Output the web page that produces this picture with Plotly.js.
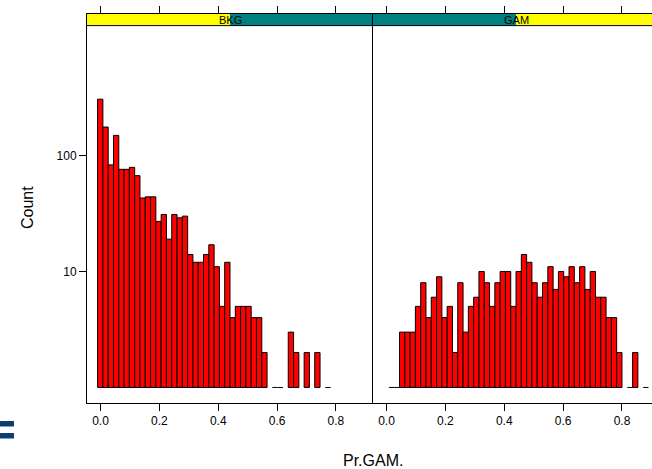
<!DOCTYPE html>
<html><head><meta charset="utf-8">
<script src="https://cdn.plot.ly/plotly-3.0.1.min.js"></script>
<style>html,body{margin:0;padding:0;background:#fff;}#chart{width:652px;height:469px;}</style>
</head><body><div id="chart"></div>
<script>
// ---- data ----
const panels = ['BKG', 'GAM'];
const breakStart = -0.01;
const binWidth = 0.018;
const bkgCounts = [306,176,83,149,76,76,79,67,43,44,44,27,31,19,31,29,30,14,12,12,14,17,11,5,12,4,5,5,5,4,4,2,0,1,1,0,3,2,0,2,0,2,0,1,0,0,0,0,0,0];
const gamCounts = [0,1,1,3,3,3,5,8,4,6,9,4,5,2,8,3,5,6,10,8,5,8,10,10,5,10,14,12,8,6,8,11,7,10,9,11,8,11,7,10,6,6,4,4,2,0,1,2,0,1];
const xTickVals = [0, 0.2, 0.4, 0.6, 0.8];
const xTickText = ['0.0', '0.2', '0.4', '0.6', '0.8'];
const yTickVals = [10, 100];
const yTickText = ['10', '100'];
const xTitle = 'Pr.GAM.';
const yTitle = 'Count';

// ---- layout geometry ----
const L = 87, R = 652, T = 14, B = 403;
const pxX = p => (p - L) / (R - L);
const pxY = p => (B - p) / (B - T);
const xRange = [-0.046, 0.926];
const x2Range = [-0.046, 0.902];
const yRange = [-0.134, 3.22];
const split = pxX(373);
const stripY0 = pxY(25.6);
const mid = (xRange[0] + xRange[1]) / 2;

const countsByPanel = [bkgCounts, gamCounts];
const traces = [];
countsByPanel.forEach((counts, i) => {
  const xa = i === 0 ? 'x' : 'x2', ya = i === 0 ? 'y' : 'y2';
  const centers = counts.map((c, k) => breakStart + binWidth * (k + 0.5));
  traces.push({
    type: 'bar', x: centers, y: counts.map(c => c > 1 ? c - 1 : null), base: 1,
    width: binWidth, xaxis: xa, yaxis: ya, hoverinfo: 'skip',
    marker: {color: '#FF0000', line: {color: '#000000', width: 1}}
  });
  const dx = [], dy = [];
  counts.forEach((c, k) => {
    if (c === 1) {
      dx.push(breakStart + binWidth * k, breakStart + binWidth * (k + 1), null);
      dy.push(1, 1, null);
    }
  });
  traces.push({type: 'scatter', mode: 'lines', x: dx, y: dy, xaxis: xa, yaxis: ya,
    line: {color: '#000000', width: 1}, hoverinfo: 'skip', cliponaxis: false});
});

const xCommon = {
  tickvals: xTickVals, ticktext: xTickText, ticks: 'outside', ticklen: 7, tickcolor: '#000',
  tickwidth: 1, showline: true, linecolor: '#000', linewidth: 1, mirror: 'ticks',
  showgrid: false, zeroline: false, tickfont: {size: 12}, fixedrange: true
};

const shapes = [
  {type: 'rect', layer: 'below', xref: 'x', yref: 'paper', x0: xRange[0], x1: mid, y0: stripY0, y1: 1, fillcolor: '#FFFF00', line: {width: 0}},
  {type: 'rect', layer: 'below', xref: 'x', yref: 'paper', x0: mid, x1: xRange[1], y0: stripY0, y1: 1, fillcolor: '#008080', line: {width: 0}},
  {type: 'rect', layer: 'below', xref: 'x2', yref: 'paper', x0: x2Range[0], x1: mid, y0: stripY0, y1: 1, fillcolor: '#008080', line: {width: 0}},
  {type: 'rect', layer: 'below', xref: 'x2', yref: 'paper', x0: mid, x1: x2Range[1] + 0.05, y0: stripY0, y1: 1, fillcolor: '#FFFF00', line: {width: 0}},
  {type: 'line', xref: 'paper', yref: 'paper', x0: 0, x1: 1, y0: stripY0, y1: stripY0, line: {color: '#000', width: 1}},
  {type: 'rect', xref: 'paper', yref: 'paper', x0: pxX(0), x1: pxX(14), y0: pxY(426.5), y1: pxY(421), fillcolor: '#0f3e6e', line: {width: 0}},
  {type: 'rect', xref: 'paper', yref: 'paper', x0: pxX(0), x1: pxX(14), y0: pxY(438.5), y1: pxY(433), fillcolor: '#0f3e6e', line: {width: 0}}
];

const stripMidY = (stripY0 + 1) / 2;
const annotations = [
  {xref: 'x', yref: 'paper', x: mid, y: stripMidY, yanchor: 'middle', xanchor: 'center', text: panels[0], showarrow: false, font: {size: 11, color: '#000'}},
  {xref: 'x2', yref: 'paper', x: mid, y: stripMidY, yanchor: 'middle', xanchor: 'center', text: panels[1], showarrow: false, font: {size: 11, color: '#000'}},
  {xref: 'paper', yref: 'paper', x: pxX(27), y: pxY(208), xanchor: 'center', yanchor: 'middle', text: yTitle, textangle: -90, showarrow: false, font: {size: 16, color: '#000'}},
  {xref: 'paper', yref: 'paper', x: pxX(373), y: pxY(461), xanchor: 'center', yanchor: 'middle', text: xTitle, showarrow: false, font: {size: 16, color: '#000'}}
];

const layout = {
  width: 652, height: 469,
  margin: {l: L, r: 652 - R, t: T, b: 469 - B, pad: 0},
  paper_bgcolor: '#ffffff', plot_bgcolor: '#ffffff',
  showlegend: false, bargap: 0,
  font: {family: 'Liberation Sans, Arial, sans-serif', color: '#000', size: 12},
  xaxis: Object.assign({}, xCommon, {domain: [0, split], range: xRange, anchor: 'y'}),
  xaxis2: Object.assign({}, xCommon, {domain: [split, 1], range: x2Range, anchor: 'y2'}),
  yaxis: {type: 'log', range: yRange, tickvals: yTickVals, ticktext: yTickText, ticks: 'outside',
    ticklen: 7, tickcolor: '#000', showline: true, linecolor: '#000', linewidth: 1, mirror: false,
    showgrid: false, zeroline: false, anchor: 'x', tickfont: {size: 12}, fixedrange: true},
  yaxis2: {type: 'log', range: yRange, showticklabels: false, ticks: '', showline: true,
    linecolor: '#000', linewidth: 1, mirror: false, showgrid: false, zeroline: false, anchor: 'x2', fixedrange: true},
  shapes: shapes,
  annotations: annotations
};

Plotly.newPlot('chart', traces, layout, {staticPlot: true, displayModeBar: false});
</script>
</body></html>
